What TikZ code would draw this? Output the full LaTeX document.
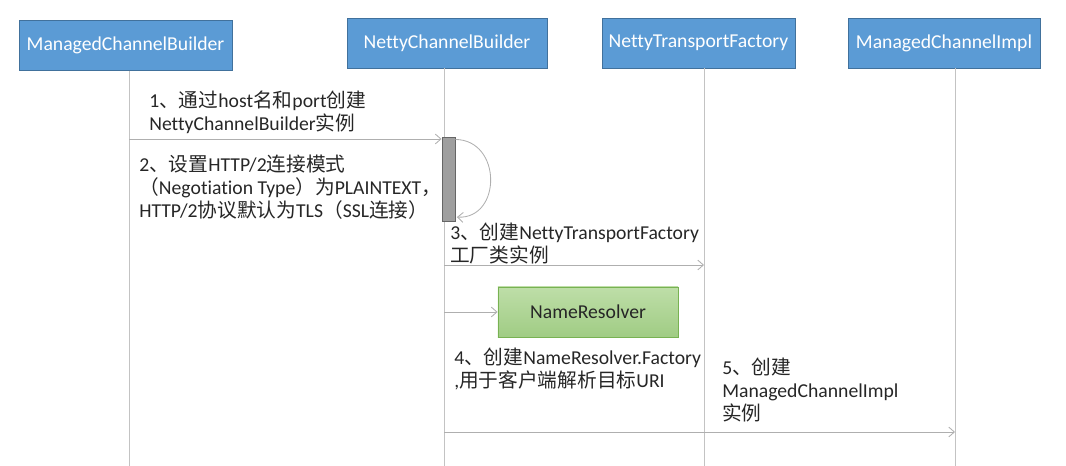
\documentclass[tikz,border=0pt]{standalone}
\usepackage{fontspec}
\setmainfont{Carlito}[Ligatures={NoCommon}]
\newfontfamily\zhfonte{Noto Sans CJK SC}
\newcommand{\zh}[1]{{\zhfonte #1}}
\usetikzlibrary{arrows.meta}
\usepackage{xcolor}
\definecolor{azul}{RGB}{91, 155, 213}
\definecolor{azulborda}{RGB}{65, 113, 156}
\definecolor{verdeclaro}{RGB}{190, 222, 168}
\definecolor{verdeescuro}{RGB}{160, 204, 132}
\definecolor{verdeborda}{RGB}{120, 178, 82}
\definecolor{cinzavida}{RGB}{195, 195, 195}
\definecolor{cinzaseta}{RGB}{175, 175, 175}
\definecolor{texto}{RGB}{38, 38, 38}

\begin{document}
\begin{tikzpicture}[
    x=0.025cm, y=-0.025cm,
    caixa/.style={
        draw=azulborda,
        fill=azul,
        text=white,
        line width=0.6pt,
        minimum height=1.25cm,
        font=\fontsize{14}{16.4}\selectfont
    },
    caixaverde/.style={
        draw=verdeborda,
        top color=verdeclaro,
        bottom color=verdeescuro,
        text=texto,
        line width=0.6pt,
        minimum height=1.25cm,
        font=\fontsize{14}{16.4}\selectfont
    },
    barra/.style={
        draw=gray!80!black,
        fill=gray!75,
        line width=0.5pt,
        minimum width=0.33cm,
        minimum height=2.1cm,
        inner sep=0pt
    },
    vida/.style={
        draw=cinzavida,
        line width=0.7pt
    },
    seta/.style={
        -{Straight Barb[length=4pt, width=7pt]},
        draw=cinzaseta,
        line width=0.6pt
    },
    rotulo/.style={
        anchor=north west,
        align=left,
        inner sep=0pt,
        text=texto,
        font=\fontsize{14}{16.4}\selectfont
    }
]

\useasboundingbox (0,0) rectangle (1066,466);

% objetos
\node[caixa, minimum width=5.325cm] (mcb) at (125.5,45.5) {ManagedChannelBuilder};
\node[caixa, minimum width=5cm] (ncb) at (447,43) {NettyChannelBuilder};
\node[caixa, minimum width=4.825cm] (ntf) at (698.5,43) {NettyTransportFactory};
\node[caixa, minimum width=4.8cm] (mci) at (944,43) {ManagedChannelImpl};

% linhas de vida
\coordinate (mcb-fim) at (129,466);
\coordinate (ncb-fim) at (444,466);
\coordinate (ntf-fim) at (704,466);
\coordinate (mci-fim) at (955,466);
\draw[vida] (mcb.south -| mcb-fim) -- (mcb-fim);
\draw[vida] (ncb.south -| ncb-fim) -- (ncb-fim);
\draw[vida] (ntf.south -| ntf-fim) -- (ntf-fim);
\draw[vida] (mci.south -| mci-fim) -- (mci-fim);

\node[barra] (ativ) at (448.5,179) {};

\node[caixaverde, minimum width=4.5cm] (resolver) at (588,312) {NameResolver};

% mensagens
\coordinate (m1) at (129,139);
\coordinate (m3) at (444,265);
\coordinate (m3b) at (704,265);
\coordinate (m4) at (444,312);
\coordinate (m5) at (444,432);
\coordinate (m5b) at (955,432);

\draw[seta] (m1) -- (m1 -| ativ.west);
\draw[seta] ([yshift=-2pt]ativ.north east)
    .. controls (502,140) and (502,219) .. ([yshift=3pt,xshift=1pt]ativ.south east);
\draw[seta] (m3) -- (m3b);
\draw[seta] (m4) -- (resolver.west);
\draw[seta] (m5) -- (m5b);

% textos
\node[rotulo] (t1) at (149,91)
{1\zh{、通过}host\zh{名和}port\zh{创建}\\
NettyChannelBuilder\zh{实例}};

\node[rotulo] (t2) at (139,155)
{2\zh{、设置}HTTP/2\zh{连接模式}\\
\zh{（}Negotiation Type\zh{）为}PLAINTEXT\zh{，}\\
HTTP/2\zh{协议默认为}TLS\zh{（}SSL\zh{连接）}};

\node[rotulo] (t3) at (450,223)
{3\zh{、创建}NettyTransportFactory\\
\zh{工厂类实例}};

\node[rotulo] (t4) at (454,348)
{4\zh{、创建}NameResolver.Factory\\
,\zh{用于客户端解析目标}URI};

\node[rotulo] (t5) at (722,358)
{5\zh{、创建}\\
ManagedChannelImpl\\
\zh{实例}};

\end{tikzpicture}
\end{document}
